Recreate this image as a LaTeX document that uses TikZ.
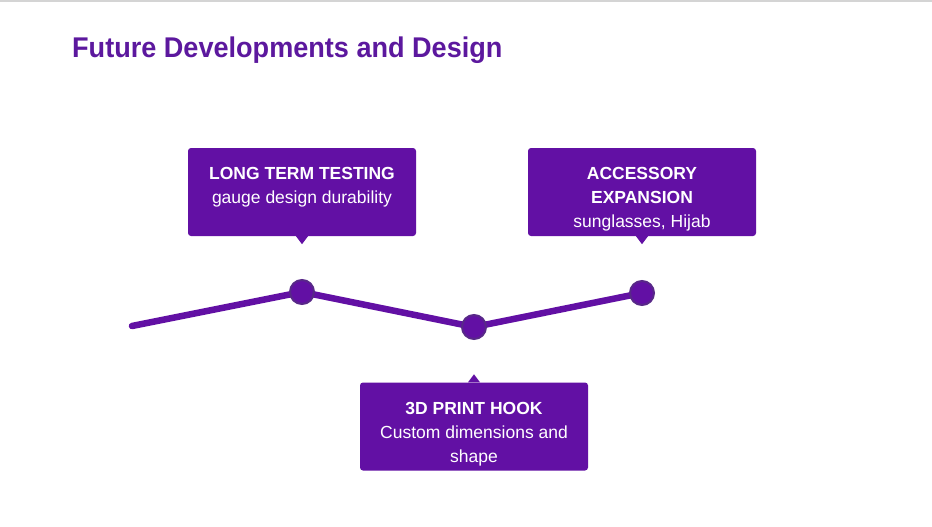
\documentclass[tikz,border=0pt]{standalone}
\usepackage{fontspec}
\setmainfont{Liberation Sans}
\definecolor{plum}{RGB}{98,16,164}
\definecolor{titleplum}{RGB}{92,24,158}
\definecolor{dotedge}{RGB}{88,40,136}
\definecolor{rulegray}{RGB}{212,212,212}
\tikzset{
  card/.style={fill=plum, rounded corners=3pt, minimum width=228pt, minimum height=88pt, inner sep=0pt},
  cardtext/.style={text=white, align=center, font=\fontsize{17.5}{24}\selectfont, inner sep=0pt, anchor=north},
  pin/.style={fill=plum},
  trail/.style={draw=plum, line width=6.5pt, line cap=round, line join=round},
  dot/.style={circle, fill=plum, draw=dotedge, line width=2pt, minimum size=24pt, inner sep=0pt},
}
\begin{document}
\begin{tikzpicture}[x=1pt,y=-1pt]
  \useasboundingbox (0,0) rectangle (932,527);
  \fill[white] (0,0) rectangle (932,527);
  \fill[rulegray] (0,0) rectangle (932,2);

  % heading
  \node[anchor=base west, inner sep=0pt, text=titleplum, font=\fontsize{28.5}{32}\selectfont\bfseries] (title) at (72,58) {\scalebox{0.95}[1]{Future Developments and Design}};

  % timeline points
  \coordinate (c0) at (132,326);
  \coordinate (c1) at (302,292);
  \coordinate (c2) at (474,327);
  \coordinate (c3) at (642,293);
  \draw[trail] (c0) -- (c1) -- (c2) -- (c3);
  \node[dot] (d1) at (c1) {};
  \node[dot] (d2) at (c2) {};
  \node[dot] (d3) at (c3) {};

  % cards
  \node[card] (b1) at (302,192) {};
  \node[card] (b2) at (642,192) {};
  \node[card] (b3) at (474,426.5) {};
  \fill[pin] ([xshift=-6pt]b1.south) -- ([yshift=-8pt]b1.south) -- ([xshift=6pt]b1.south) -- cycle;
  \fill[pin] ([xshift=-6pt]b2.south) -- ([yshift=-8pt]b2.south) -- ([xshift=6pt]b2.south) -- cycle;
  \fill[pin] ([xshift=-6pt]b3.north) -- ([yshift=8pt]b3.north) -- ([xshift=6pt]b3.north) -- cycle;

  \node[cardtext] (t1) at ([yshift=-19.5pt]b1.north) {\textbf{LONG TERM TESTING}\\gauge design durability};
  \node[cardtext] (t2) at ([yshift=-19.5pt]b2.north) {\textbf{ACCESSORY}\\\textbf{EXPANSION}\\sunglasses, Hijab};
  \node[cardtext] (t3) at ([yshift=-19.5pt]b3.north) {\textbf{3D PRINT HOOK}\\Custom dimensions and\\shape};
\end{tikzpicture}
\end{document}
